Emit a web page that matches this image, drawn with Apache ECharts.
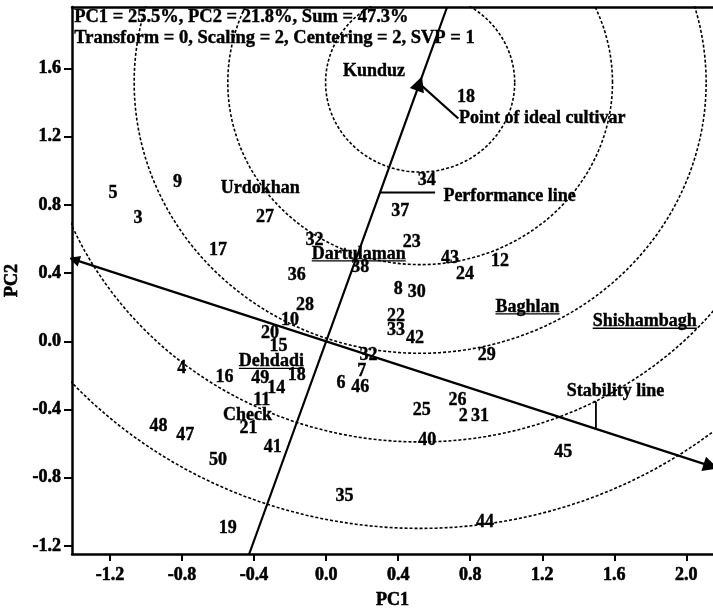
<!DOCTYPE html>
<html><head><meta charset="utf-8">
<script src="https://cdn.jsdelivr.net/npm/echarts@6/dist/echarts.min.js"></script>
<style>html,body{margin:0;padding:0;background:#fff}#c{width:713px;height:608px}</style>
</head><body><div id="c"></div>
<script>
// ---------- data ----------
const genotypeNames = ['18','34','37','23','43','24','12','8','30','22','33','42','29','26','2','31','25','40','45','44','35','19','50','41','21','47','48','11','49','14','16','4','18','15','20','10','28','36','32','38','32','7','6','46','27','17','9','5','3'];
const genotypeX = [0.777,0.559,0.411,0.476,0.688,0.771,0.966,0.401,0.503,0.388,0.388,0.494,0.892,0.729,0.762,0.855,0.531,0.562,1.317,0.882,0.102,-0.546,-0.601,-0.296,-0.431,-0.782,-0.931,-0.357,-0.366,-0.277,-0.564,-0.801,-0.163,-0.265,-0.311,-0.200,-0.117,-0.163,-0.065,0.189,0.235,0.198,0.082,0.189,-0.339,-0.601,-0.825,-1.184,-1.045];
const genotypeY = [1.430,0.945,0.760,0.578,0.487,0.393,0.467,0.307,0.285,0.148,0.066,0.018,-0.080,-0.344,-0.438,-0.438,-0.403,-0.579,-0.653,-1.061,-0.907,-1.096,-0.696,-0.621,-0.510,-0.553,-0.496,-0.348,-0.217,-0.276,-0.211,-0.158,-0.198,-0.032,0.050,0.121,0.213,0.385,0.590,0.434,-0.080,-0.178,-0.246,-0.270,0.730,0.531,0.930,0.871,0.721];

const envNames = ['Kunduz','Urdokhan','Dartulaman','Baghlan','Shishambagh','Dehdadi','Check'];
const envX = [0.266,-0.366,0.181,1.118,1.769,-0.304,-0.436];
const envY = [1.584,0.897,0.510,0.199,0.115,-0.120,-0.432];
const envUnderlined = [false,false,true,true,true,true,false];

const headerLines = ['PC1 = 25.5%, PC2 = 21.8%, Sum = 47.3%', 'Transform = 0, Scaling = 2, Centering = 2, SVP = 1'];
const annoTexts = ['Point of ideal cultivar', 'Performance line', 'Stability line'];
const annoX = [0.738, 0.651, 1.336];
const annoY = [1.309, 0.851, -0.291];

const xTicks = [-1.2,-0.8,-0.4,0.0,0.4,0.8,1.2,1.6,2.0];
const yTicks = [-1.2,-0.8,-0.4,0.0,0.4,0.8,1.2,1.6];
const xRange = [-1.411, 2.148];
const yRange = [-1.247, 1.961];

const idealPoint = [0.518, 1.512];          // tip of the average-environment arrow
const circleCenter = [0.522, 1.518];
const circleRadii = [0.525, 1.068, 1.588, 2.108, 2.615];
const perfLine = {y: 0.873, endX: 0.605};
const idealPointerEnd = [0.734, 1.307];
const stabPointer = {x: 1.498, topY: -0.354, capX: 1.484};

// ---------- derived geometry ----------
const k = idealPoint[0] / idealPoint[1];
const aecBottom = [k * yRange[0], yRange[0]];
const aecTop = [k * yRange[1], yRange[1]];
const atcLeft = [xRange[0] + 0.012, -(xRange[0] + 0.012) * k];
const atcRight = [xRange[1] - 0.012, -(xRange[1] - 0.012) * k];

const FONT = '"Liberation Serif", "Times New Roman", serif';
const LABEL_FONT = 'bold 18px "Liberation Serif"';
const txt = {fontFamily: FONT, fontSize: 18, fontWeight: 'bold', color: '#000000', opacity: 1, textBorderColor: '#000000', textBorderWidth: 0.6};

const measureCtx = document.createElement('canvas').getContext('2d');
measureCtx.font = LABEL_FONT;

function circlePts(r) {
  const pts = [];
  for (let a = 0; a <= 360; a += 2) {
    const t = a * Math.PI / 180;
    pts.push([circleCenter[0] + r * Math.cos(t), circleCenter[1] + r * Math.sin(t)]);
  }
  return pts;
}

const series = [];
circleRadii.forEach(r => series.push({
  type: 'line', data: circlePts(r), showSymbol: false, symbol: 'none', clip: true, silent: true,
  lineStyle: {color: '#000', width: 1.6, type: [3, 2]}, z: 1
}));

function seg(a, b, w) {
  return {type: 'line', data: [a, b], symbol: 'none', clip: true, silent: true,
    lineStyle: {color: '#000', width: w || 2.2}, z: 3};
}
series.push(seg(idealPoint, aecTop));
series.push(seg([k * perfLine.y, perfLine.y], [perfLine.endX, perfLine.y]));
series.push(seg(idealPoint, idealPointerEnd));
series.push(seg([stabPointer.x, -k * stabPointer.x], [stabPointer.x, stabPointer.topY], 1.8));
series.push(seg([stabPointer.capX, stabPointer.topY], [stabPointer.x, stabPointer.topY], 1.8));

series.push({
  type: 'lines', coordinateSystem: 'cartesian2d', silent: true, z: 4,
  symbol: ['none', 'triangle'], symbolSize: [11, 15],
  lineStyle: {color: '#000', width: 2.2, opacity: 1},
  data: [{coords: [aecBottom, idealPoint]}]
});
series.push({
  type: 'lines', coordinateSystem: 'cartesian2d', silent: true, z: 4,
  symbol: ['triangle', 'triangle'], symbolSize: [11, 15],
  lineStyle: {color: '#000', width: 2.2, opacity: 1},
  data: [{coords: [atcLeft, atcRight]}]
});

// text labels drawn at data positions through the cartesian scales
function labelSeries(names, xs, ys, align, underline) {
  return {
    type: 'custom', coordinateSystem: 'cartesian2d', silent: true, z: 6, clip: false,
    data: names.map((n, i) => [xs[i], ys[i], i]),
    renderItem: function (params, api) {
      const p = api.coord([api.value(0), api.value(1)]);
      const idx = api.value(2);
      const name = names[idx];
      const children = [{
        type: 'text', x: 0, y: 0,
        style: {
          text: name, x: 0, y: 0, font: LABEL_FONT, fill: '#000', stroke: '#000', lineWidth: 0.4,
          align: align || 'center', verticalAlign: 'middle'
        }
      }];
      if (underline && underline[idx]) {
        const w = measureCtx.measureText(name).width;
        const x0 = (align === 'left') ? 0 : -w / 2;
        children.push({type: 'line', shape: {x1: x0, y1: 6.5, x2: x0 + w, y2: 6.5},
          style: {stroke: '#000', lineWidth: 1.3}});
      }
      return {type: 'group', x: p[0], y: p[1], children: children};
    }
  };
}
series.push(labelSeries(genotypeNames, genotypeX, genotypeY));
series.push(labelSeries(envNames, envX, envY, 'center', envUnderlined));
series.push(labelSeries(annoTexts, annoX, annoY, 'left'));

const chart = echarts.init(document.getElementById('c'));
chart.setOption({
  animation: false,
  backgroundColor: '#fff',
  grid: {left: 72, right: 0, top: 7, bottom: 54, outerBoundsMode: 'none', containLabel: false},
  graphic: headerLines.map((t, i) => ({
    type: 'text', left: 74, top: 8 + i * 21, z: 10,
    style: {text: t, font: 'bold 18.5px "Liberation Serif"', fill: '#000', stroke: '#000', lineWidth: 0.4}
  })),
  xAxis: [{
    type: 'value', min: xRange[0], max: xRange[1], position: 'bottom',
    name: 'PC1', nameLocation: 'middle', nameGap: 37, nameTextStyle: txt,
    axisLine: {show: true, onZero: false, lineStyle: {color: '#000', width: 2.5}},
    axisTick: {show: true, length: 7, inside: false, customValues: xTicks, lineStyle: {color: '#000', width: 2}},
    axisLabel: Object.assign({margin: 12, customValues: xTicks, formatter: v => v.toFixed(1)}, txt),
    splitLine: {show: false}
  }, {
    type: 'value', min: xRange[0], max: xRange[1], position: 'top',
    axisLine: {show: true, onZero: false, lineStyle: {color: '#000', width: 2.5}},
    axisTick: {show: false}, axisLabel: {show: false}, splitLine: {show: false}
  }],
  yAxis: {
    type: 'value', min: yRange[0], max: yRange[1],
    name: 'PC2', nameLocation: 'middle', nameGap: 45, nameTextStyle: txt,
    axisLine: {show: true, onZero: false, lineStyle: {color: '#000', width: 2.5}},
    axisTick: {show: true, length: 8, customValues: yTicks, lineStyle: {color: '#000', width: 2}},
    axisLabel: Object.assign({margin: 11, customValues: yTicks, formatter: v => v.toFixed(1)}, txt),
    splitLine: {show: false}
  },
  series: series
});
</script></body></html>
